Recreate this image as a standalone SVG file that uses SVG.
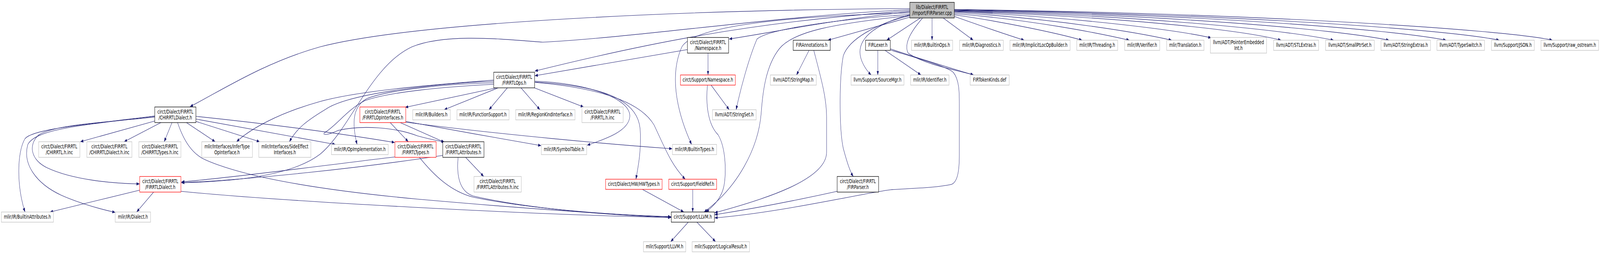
<svg xmlns="http://www.w3.org/2000/svg" width="5749" height="648" viewBox="0 0 5749 648" preserveAspectRatio="none" style="width:100vw;height:100vh;display:block">
<defs>
<marker id="a" markerWidth="11" markerHeight="8" refX="10.5" refY="4" orient="auto" markerUnits="userSpaceOnUse"><path d="M0,0 L11,4 L0,8 z" fill="#191970"/></marker>
<style>
.n rect{fill:#fff;stroke:#bfbfbf;stroke-width:1.3}
.b rect{stroke:#000}
.r rect{stroke:#ff0000}
.root rect{fill:#bfbfbf;stroke:#000}
text{font-family:"DejaVu Sans","Liberation Sans",sans-serif;font-size:13.33px;text-anchor:middle;fill:#000}
#edges path{fill:none;stroke:#191970;stroke-width:1.1;marker-end:url(#a)}
</style>
</defs>
<rect width="5749" height="648" fill="#fff"/>
<g id="edges">
<path d="M3269,44 L2975,103"/>
<path d="M3307,46 L3186,103"/>
<path d="M3349,46 L3349,103"/>
<path d="M3389,46 L3497,103"/>
<path d="M3429,42 C3500,60 3600,85 3680,103"/>
<path d="M3429,38 C3600,55 3800,85 3888,103"/>
<path d="M3429,35 C3700,50 3950,85 4058,103"/>
<path d="M3429,32 C3800,48 4100,85 4210,103"/>
<path d="M3429,30 C3900,45 4250,80 4352,97"/>
<path d="M3429,29 C4000,42 4450,75 4603,103"/>
<path d="M3429,28 C4100,40 4600,75 4792,103"/>
<path d="M3429,27 C4200,38 4800,75 4991,103"/>
<path d="M3429,26 C4300,36 5000,75 5196,103"/>
<path d="M3429,25 C4400,35 5200,75 5387,103"/>
<path d="M3429,24 C4500,34 5400,75 5578,103"/>
<path d="M3269,30 C3000,50 2800,80 2620,100"/>
<path d="M3269,28 C2700,55 2300,115 1922,182"/>
<path d="M3269,22 C2500,25 1500,55 1150,120 C950,160 800,230 683,273"/>
<path d="M3269,25 C2800,40 2300,95 1950,108 C1800,100 1600,85 1480,120 C1330,170 1260,330 1150,395 C1040,455 800,466 652,468"/>
<path d="M3269,33 C2900,40 2500,60 2450,120 C2400,200 2440,300 2485,370"/>
<path d="M3269,37 C3000,50 2760,75 2720,100 C2690,150 2660,230 2645,281"/>
<path d="M3269,40 C3000,60 2850,80 2800,125 C2750,170 2740,240 2735,290 C2725,380 2650,480 2530,543"/>
<path d="M3269,38 C3150,60 3090,95 3090,133 C3090,155 3110,178 3130,192"/>
<path d="M3315,46 C3280,75 3245,110 3263,136 C3320,165 3440,180 3498,192"/>
<path d="M3269,40 C3150,60 3050,100 3030,143 C3015,200 3015,330 3030,380 C3045,420 3055,440 3066,452"/>
<path d="M2544,136 L2544,192"/>
<path d="M2470,127 L1922,194"/>
<path d="M2907,129 L2862,192"/>
<path d="M2924,129 C2950,200 2970,250 2970,300 L2970,390 C2970,460 2750,510 2568,545"/>
<path d="M3154,129 L3154,192"/>
<path d="M3180,129 L3309,192"/>
<path d="M3199,125 C3300,150 3420,175 3498,192"/>
<path d="M3199,128 C3300,150 3400,170 3425,185 C3448,205 3447,240 3447,270 L3447,396 C3447,440 3440,465 3420,472 C3360,482 3250,483 3200,486 C3100,495 2800,545 2568,558"/>
<path d="M3008,490 C2850,515 2700,535 2568,550"/>
<path d="M2555,218 L2620,281"/>
<path d="M2542,218 C2535,270 2545,320 2580,345 C2610,380 2610,450 2600,480 C2590,510 2560,530 2537,543"/>
<path d="M2473,569 L2410,619"/>
<path d="M2504,569 L2571,619"/>
<path d="M2308,485 L2457,543"/>
<path d="M2489,485 L2489,543"/>
<path d="M1784,225 L1456,275"/>
<path d="M1790,225 L1596,281"/>
<path d="M1823,225 L1757,281"/>
<path d="M1872,225 L1940,281"/>
<path d="M1920,225 L2097,274"/>
<path d="M1774,205 C1600,215 1300,230 1150,260 C1000,290 900,330 850,363"/>
<path d="M1774,208 C1550,215 1250,240 1170,280 C1100,310 1065,330 1040,363"/>
<path d="M1774,212 C1600,215 1400,230 1320,252 C1270,270 1262,310 1283,370"/>
<path d="M1774,216 C1600,222 1400,235 1310,258 C1250,280 1210,320 1170,338 C1150,348 1180,346 1215,334 C1300,320 1420,326 1500,348 C1540,356 1570,360 1598,364"/>
<path d="M1922,208 C2100,212 2265,250 2263,298 C2260,335 2180,355 2110,372"/>
<path d="M1922,210 C2150,220 2290,250 2300,330 C2305,380 2295,420 2285,459"/>
<path d="M1922,211 C2150,225 2300,260 2350,320 C2390,380 2410,420 2462,459"/>
<path d="M1402,314 L1467,363"/>
<path d="M1438,314 L1596,364"/>
<path d="M1458,311 C1600,330 1800,355 1944,373"/>
<path d="M1458,313 C1800,345 2200,370 2415,381"/>
<path d="M556,310 L289,363"/>
<path d="M578,314 L446,363"/>
<path d="M618,314 L590,363"/>
<path d="M556,300 C350,315 200,320 140,345 C100,370 110,410 170,430 C260,460 400,470 501,471"/>
<path d="M556,298 C300,320 130,330 100,370 C80,420 130,470 220,500 C300,525 370,537 414,544"/>
<path d="M556,297 C300,320 120,330 90,355 C60,390 60,480 90,543"/>
<path d="M670,314 L773,363"/>
<path d="M704,311 L933,363"/>
<path d="M704,305 L1205,370"/>
<path d="M704,298 C1000,320 1250,345 1418,365"/>
<path d="M638,314 C660,360 690,395 740,410 C900,460 1200,490 1500,510 C1900,535 2200,550 2411,555"/>
<path d="M502,487 L180,543"/>
<path d="M552,492 L491,543"/>
<path d="M650,490 C1000,515 1900,550 2411,557"/>
<path d="M1419,402 C1200,420 900,450 652,466"/>
<path d="M1507,403 C1560,450 1620,490 1700,505 C1900,535 2200,550 2411,556"/>
<path d="M1673,403 L1738,452"/>
<path d="M1591,398 C1300,430 900,460 652,468"/>
<path d="M1646,403 C1640,450 1650,490 1700,502 C1900,535 2200,552 2411,557"/>
</g>
<g id="n_root" class="n root"><rect x="3269" y="6" width="160" height="40"/><text x="3349" y="23">lib/Dialect/FIRRTL</text><text x="3349" y="38">/Import/FIRParser.cpp</text></g>
<g id="n_fns" class="n b"><rect x="2470" y="96" width="148" height="40"/><text x="2544" y="113">circt/Dialect/FIRRTL</text><text x="2544" y="128">/Namespace.h</text></g>
<g id="n_firann" class="n b"><rect x="2850" y="103" width="133" height="26"/><text x="2916.5" y="120.5">FIRAnnotations.h</text></g>
<g id="n_firlexer" class="n b"><rect x="3110" y="103" width="89" height="26"/><text x="3154.5" y="120.5">FIRLexer.h</text></g>
<g id="n_builtinops" class="n"><rect x="3275" y="103" width="148" height="26"/><text x="3349" y="120.5">mlir/IR/BuiltinOps.h</text></g>
<g id="n_diag" class="n"><rect x="3448" y="103" width="157" height="26"/><text x="3526.5" y="120.5">mlir/IR/Diagnostics.h</text></g>
<g id="n_implicit" class="n"><rect x="3629" y="103" width="216" height="26"/><text x="3737" y="120.5">mlir/IR/ImplicitLocOpBuilder.h</text></g>
<g id="n_thread" class="n"><rect x="3869" y="103" width="147" height="26"/><text x="3942.5" y="120.5">mlir/IR/Threading.h</text></g>
<g id="n_verifier" class="n"><rect x="4041" y="103" width="126" height="26"/><text x="4104" y="120.5">mlir/IR/Verifier.h</text></g>
<g id="n_transl" class="n"><rect x="4192" y="103" width="134" height="26"/><text x="4259" y="120.5">mlir/Translation.h</text></g>
<g id="n_ptremb" class="n"><rect x="4349" y="96" width="202" height="40"/><text x="4450" y="113">llvm/ADT/PointerEmbedded</text><text x="4450" y="128">Int.h</text></g>
<g id="n_stlextras" class="n"><rect x="4576" y="103" width="162" height="26"/><text x="4657" y="120.5">llvm/ADT/STLExtras.h</text></g>
<g id="n_smallptr" class="n"><rect x="4763" y="103" width="175" height="26"/><text x="4850.5" y="120.5">llvm/ADT/SmallPtrSet.h</text></g>
<g id="n_strext" class="n"><rect x="4962" y="103" width="178" height="26"/><text x="5051" y="120.5">llvm/ADT/StringExtras.h</text></g>
<g id="n_typeswitch" class="n"><rect x="5163" y="103" width="171" height="26"/><text x="5248.5" y="120.5">llvm/ADT/TypeSwitch.h</text></g>
<g id="n_json" class="n"><rect x="5359" y="103" width="154" height="26"/><text x="5436" y="120.5">llvm/Support/JSON.h</text></g>
<g id="n_rawos" class="n"><rect x="5537" y="103" width="207" height="26"/><text x="5640.5" y="120.5">llvm/Support/raw_ostream.h</text></g>
<g id="n_ops" class="n b"><rect x="1774" y="185" width="147" height="40"/><text x="1847.5" y="202">circt/Dialect/FIRRTL</text><text x="1847.5" y="217">/FIRRTLOps.h</text></g>
<g id="n_sns" class="n r"><rect x="2445" y="192" width="197" height="26"/><text x="2543.5" y="209.5">circt/Support/Namespace.h</text></g>
<g id="n_strmap" class="n"><rect x="2768" y="192" width="165" height="26"/><text x="2850.5" y="209.5">llvm/ADT/StringMap.h</text></g>
<g id="n_srcmgr" class="n"><rect x="3058" y="192" width="190" height="26"/><text x="3153" y="209.5">llvm/Support/SourceMgr.h</text></g>
<g id="n_ident" class="n"><rect x="3272" y="192" width="138" height="26"/><text x="3341" y="209.5">mlir/IR/Identifier.h</text></g>
<g id="n_tok" class="n"><rect x="3486" y="192" width="140" height="26"/><text x="3556" y="209.5">FIRTokenKinds.def</text></g>
<g id="n_chdialect" class="n b"><rect x="556" y="274" width="148" height="40"/><text x="630" y="291">circt/Dialect/FIRRTL</text><text x="630" y="306">/CHIRRTLDialect.h</text></g>
<g id="n_opif" class="n r"><rect x="1293" y="274" width="165" height="40"/><text x="1375.5" y="291">circt/Dialect/FIRRTL</text><text x="1375.5" y="306">/FIRRTLOpInterfaces.h</text></g>
<g id="n_builders" class="n"><rect x="1483" y="281" width="135" height="26"/><text x="1550.5" y="298.5">mlir/IR/Builders.h</text></g>
<g id="n_funcsup" class="n"><rect x="1642" y="281" width="187" height="26"/><text x="1735.5" y="298.5">mlir/IR/FunctionSupport.h</text></g>
<g id="n_regkind" class="n"><rect x="1853" y="281" width="213" height="26"/><text x="1959.5" y="298.5">mlir/IR/RegionKindInterface.h</text></g>
<g id="n_firrtlinc" class="n"><rect x="2091" y="274" width="148" height="40"/><text x="2165" y="291">circt/Dialect/FIRRTL</text><text x="2165" y="306">/FIRRTL.h.inc</text></g>
<g id="n_strset" class="n"><rect x="2560" y="281" width="157" height="26"/><text x="2638.5" y="298.5">llvm/ADT/StringSet.h</text></g>
<g id="n_chinc" class="n"><rect x="139" y="363" width="148" height="40"/><text x="213" y="380">circt/Dialect/FIRRTL</text><text x="213" y="395">/CHIRRTL.h.inc</text></g>
<g id="n_chdinc" class="n"><rect x="312" y="363" width="162" height="40"/><text x="393" y="380">circt/Dialect/FIRRTL</text><text x="393" y="395">/CHIRRTLDialect.h.inc</text></g>
<g id="n_chtinc" class="n"><rect x="499" y="363" width="151" height="40"/><text x="574.5" y="380">circt/Dialect/FIRRTL</text><text x="574.5" y="395">/CHIRRTLTypes.h.inc</text></g>
<g id="n_infer" class="n"><rect x="725" y="363" width="182" height="40"/><text x="816" y="380">mlir/Interfaces/InferType</text><text x="816" y="395">OpInterface.h</text></g>
<g id="n_side" class="n"><rect x="930" y="363" width="187" height="40"/><text x="1023.5" y="380">mlir/Interfaces/SideEffect</text><text x="1023.5" y="395">Interfaces.h</text></g>
<g id="n_opimpl" class="n"><rect x="1191" y="370" width="204" height="26"/><text x="1293" y="387.5">mlir/IR/OpImplementation.h</text></g>
<g id="n_types" class="n r"><rect x="1419" y="363" width="148" height="40"/><text x="1493" y="380">circt/Dialect/FIRRTL</text><text x="1493" y="395">/FIRRTLTypes.h</text></g>
<g id="n_attrs" class="n b"><rect x="1591" y="363" width="148" height="40"/><text x="1665" y="380">circt/Dialect/FIRRTL</text><text x="1665" y="395">/FIRRTLAttributes.h</text></g>
<g id="n_symtab" class="n"><rect x="1945" y="370" width="163" height="26"/><text x="2026.5" y="387.5">mlir/IR/SymbolTable.h</text></g>
<g id="n_btypes" class="n"><rect x="2416" y="370" width="159" height="26"/><text x="2495.5" y="387.5">mlir/IR/BuiltinTypes.h</text></g>
<g id="n_dialect" class="n r"><rect x="502" y="452" width="148" height="40"/><text x="576" y="469">circt/Dialect/FIRRTL</text><text x="576" y="484">/FIRRTLDialect.h</text></g>
<g id="n_attrinc" class="n"><rect x="1703" y="452" width="170" height="40"/><text x="1788" y="469">circt/Dialect/FIRRTL</text><text x="1788" y="484">/FIRRTLAttributes.h.inc</text></g>
<g id="n_hwtypes" class="n r"><rect x="2176" y="459" width="203" height="26"/><text x="2277.5" y="476.5">circt/Dialect/HW/HWTypes.h</text></g>
<g id="n_fieldref" class="n r"><rect x="2403" y="459" width="172" height="26"/><text x="2489" y="476.5">circt/Support/FieldRef.h</text></g>
<g id="n_firparserh" class="n b"><rect x="3008" y="452" width="149" height="40"/><text x="3082.5" y="469">circt/Dialect/FIRRTL</text><text x="3082.5" y="484">/FIRParser.h</text></g>
<g id="n_battrs" class="n"><rect x="5" y="543" width="187" height="26"/><text x="98.5" y="560.5">mlir/IR/BuiltinAttributes.h</text></g>
<g id="n_mdialect" class="n"><rect x="414" y="543" width="127" height="26"/><text x="477.5" y="560.5">mlir/IR/Dialect.h</text></g>
<g id="n_cllvm" class="n b"><rect x="2412" y="543" width="155" height="26"/><text x="2489.5" y="560.5">circt/Support/LLVM.h</text></g>
<g id="n_mllvm" class="n"><rect x="2312" y="619" width="152" height="26"/><text x="2388" y="636.5">mlir/Support/LLVM.h</text></g>
<g id="n_logres" class="n"><rect x="2487" y="619" width="206" height="26"/><text x="2590" y="636.5">mlir/Support/LogicalResult.h</text></g>
</svg>
